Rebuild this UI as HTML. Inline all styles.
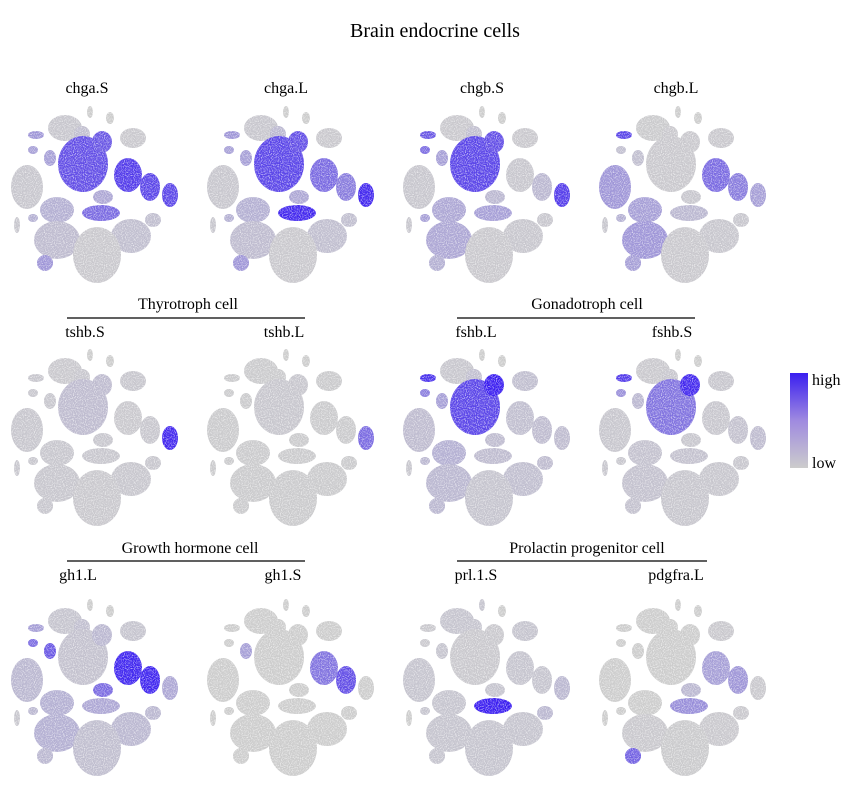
<!DOCTYPE html>
<html><head><meta charset="utf-8">
<style>
html,body{margin:0;padding:0;background:#fff;}
svg{display:block;font-family:"Liberation Serif",serif;}
</style></head>
<body>
<svg id="chart" width="863" height="802" viewBox="0 0 863 802" xmlns="http://www.w3.org/2000/svg">
<defs>
<linearGradient id="lg" x1="0" y1="1" x2="0" y2="0">
<stop offset="0" stop-color="#cccccc"/><stop offset="0.5" stop-color="#9f8ae0"/><stop offset="1" stop-color="#3a1ff0"/>
</linearGradient>
<filter id="speck" x="-10%" y="-10%" width="120%" height="120%">
<feTurbulence type="fractalNoise" baseFrequency="0.9" numOctaves="1" seed="3" result="n"/>
<feColorMatrix in="n" type="matrix" values="0 0 0 0 1  0 0 0 0 1  0 0 0 0 1  0 0 0 -2.2 2.0" result="m"/>
<feComposite in="SourceGraphic" in2="m" operator="in"/>
</filter>
</defs>
<text x="435" y="37" text-anchor="middle" font-size="20">Brain endocrine cells</text>
<g id="panels"></g>
<g>
<text x="188" y="309" text-anchor="middle" font-size="16">Thyrotroph cell</text>
<line x1="67" y1="318" x2="305" y2="318" stroke="#000" stroke-width="1.2"/>
<text x="587" y="309" text-anchor="middle" font-size="16">Gonadotroph cell</text>
<line x1="457" y1="318" x2="695" y2="318" stroke="#000" stroke-width="1.2"/>
<text x="190" y="553" text-anchor="middle" font-size="16">Growth hormone cell</text>
<line x1="67" y1="561" x2="305" y2="561" stroke="#000" stroke-width="1.2"/>
<text x="587" y="553" text-anchor="middle" font-size="16">Prolactin progenitor cell</text>
<line x1="457" y1="561" x2="707" y2="561" stroke="#000" stroke-width="1.2"/>
</g>
<g>
<rect x="790" y="373" width="18" height="95" fill="url(#lg)"/>
<text x="812" y="385" font-size="16">high</text>
<text x="812" y="468" font-size="16">low</text>
</g>
</svg>
<script>
// cluster layout (local panel coordinates): cx, cy, rx, ry
const clusterNames=["tl","tl2","top1","top2","tr","central","centralTop","sl1","sl2","left","ml2","r1","r2","far","midleft","mid","prolactin","lrsmall","rightlower","bottomleft","bottom","blsmall","tiny1","tiny2"];
const clusterShapes=[[65,38,17,13],[82,44,8,8],[90,22,3,6],[110,28,4,6],[133,48,13,10],[83,74,25,28],[102,52,10,11],[36,45,8,4],[33,60,5,4],[27,97,16,22],[50,68,6,8],[128,85,14,17],[150,97,10,14],[170,105,8,12],[57,120,17,13],[103,107,10,7],[101,123,19,8],[153,130,8,7],[131,146,20,17],[57,150,23,19],[97,165,24,28],[45,173,8,8],[17,135,3,8],[33,128,5,4]];
// panels
const panelLabels=["chga.S","chga.L","chgb.S","chgb.L","tshb.S","tshb.L","fshb.L","fshb.S","gh1.L","gh1.S","prl.1.S","pdgfra.L"];
const labelX=[87,286,482,676,85,284,476,672,78,283,476,676];
// expression level per panel per cluster (order of clusterNames), 0..1
const expr=[
[0.05,0.1,0,0,0.03,0.75,0.7,0.35,0.3,0.05,0.3,0.85,0.8,0.8,0.2,0.25,0.6,0.1,0.1,0.12,0.03,0.35,0.05,0.2],
[0.05,0.15,0,0,0.03,0.8,0.75,0.35,0.3,0.05,0.3,0.6,0.5,0.95,0.2,0.25,0.95,0.1,0.1,0.12,0.03,0.35,0.05,0.2],
[0.03,0.1,0,0,0.03,0.8,0.75,0.7,0.6,0.05,0.3,0.05,0.15,0.85,0.25,0.15,0.3,0.05,0.05,0.25,0.03,0.2,0.05,0.3],
[0.02,0.03,0,0,0.03,0.03,0.03,0.8,0.1,0.35,0.1,0.6,0.5,0.3,0.3,0.05,0.15,0.05,0.05,0.35,0.03,0.3,0.05,0.2],
[0.03,0.05,0,0,0.05,0.12,0.12,0.05,0.05,0.05,0.05,0.03,0.05,0.95,0.05,0.05,0.05,0.05,0.05,0.05,0.03,0.05,0.05,0.05],
[0.02,0.02,0,0,0.02,0.05,0.05,0.02,0.02,0.02,0.02,0.02,0.02,0.6,0.02,0.02,0.02,0.02,0.02,0.02,0.02,0.02,0.02,0.02],
[0.05,0.1,0,0,0.1,0.8,1.0,0.9,0.5,0.12,0.3,0.1,0.12,0.12,0.2,0.12,0.12,0.12,0.1,0.15,0.06,0.15,0.05,0.15],
[0.03,0.05,0,0,0.05,0.55,0.95,0.85,0.4,0.05,0.15,0.05,0.08,0.12,0.08,0.05,0.08,0.05,0.05,0.08,0.05,0.08,0.05,0.05],
[0.06,0.1,0,0,0.06,0.08,0.15,0.3,0.6,0.15,0.7,0.97,0.97,0.25,0.2,0.6,0.25,0.15,0.15,0.2,0.1,0.15,0.05,0.15],
[0,0,0,0,0,0,0,0,0,0,0.3,0.55,0.75,0,0,0,0,0,0,0,0,0,0,0],
[0.06,0.06,0.06,0,0.06,0.03,0.03,0.03,0.03,0.06,0.06,0.06,0.06,0.15,0.06,0.06,1.0,0.15,0.06,0.06,0.06,0.06,0,0.06],
[0,0,0,0,0.03,0,0,0,0,0,0,0.3,0.35,0.03,0,0.15,0.4,0.03,0.03,0.03,0.02,0.65,0,0]
];
const colOrigins=[0,196,392,588];
const rowOrigins=[90,333,583];
const labelRowY=[93,337,580];

function col(v){
  const lo=[204,204,204], hi=[58,31,240];
  const t=Math.pow(v,1.1);
  return "rgb("+lo.map((l,i)=>Math.round(l+(hi[i]-l)*t)).join(",")+")";
}
const ns="http://www.w3.org/2000/svg";
const host=document.getElementById("panels");
panelLabels.forEach((lab,p)=>{
  const r=Math.floor(p/4), c=p%4;
  const g=document.createElementNS(ns,"g");
  
  
  g.setAttribute("transform","translate("+colOrigins[c]+","+rowOrigins[r]+")");
  const t=document.createElementNS(ns,"text");
  
  
  t.setAttribute("x",labelX[p]-colOrigins[c]);
  t.setAttribute("y",labelRowY[r]-rowOrigins[r]);
  t.setAttribute("text-anchor","middle");
  t.setAttribute("font-size","16");
  t.textContent=lab;
  g.appendChild(t);
  const cg=document.createElementNS(ns,"g");
  cg.setAttribute("filter","url(#speck)");
  clusterShapes.forEach((s,k)=>{
    const e=document.createElementNS(ns,"ellipse");
    
    
    e.setAttribute("cx",s[0]);e.setAttribute("cy",s[1]);
    e.setAttribute("rx",s[2]);e.setAttribute("ry",s[3]);
    e.setAttribute("fill",col(expr[p][k]));
    cg.appendChild(e);
  });
  g.appendChild(cg);
  host.appendChild(g);
});
</script>
</body></html>
